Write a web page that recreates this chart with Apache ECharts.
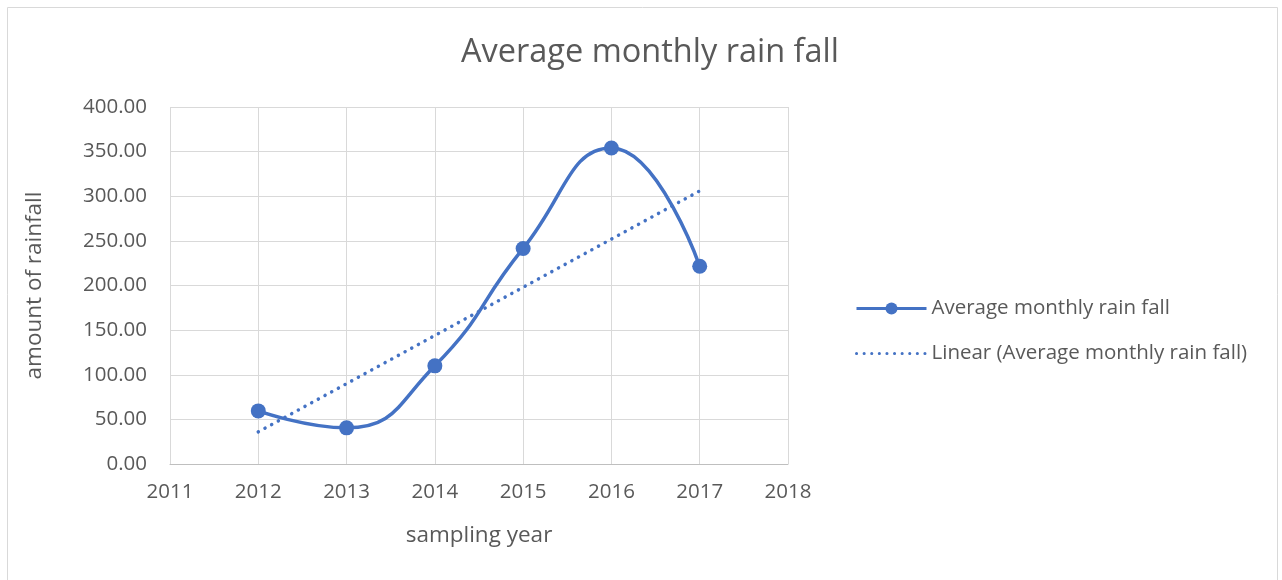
<!DOCTYPE html>
<html lang="en">
<head>
<meta charset="UTF-8">
<title>Average monthly rain fall</title>
<script src="https://cdn.jsdelivr.net/npm/echarts@6/dist/echarts.min.js"></script>
<style>
  body { margin: 0; background: #fff; }
  #main { width: 1282px; height: 580px; }
</style>
</head>
<body>
<div id="main"></div>
<script>
// values
const years = [2012, 2013, 2014, 2015, 2016, 2017];
const rainfall = [59.5, 40.5, 110, 241.5, 354, 221.5];
// linear trend end points (as drawn in the picture)
const trendYears = [2012, 2017];
const trendValues = [36, 306];

const blue = '#4472C4';
const grey = '#595959';
const font = 'Open Sans';

const chart = echarts.init(document.getElementById('main'));

chart.setOption({
  animation: false,
  textStyle: { fontFamily: font },
  graphic: [{
    type: 'rect',
    shape: { x: 7.5, y: 7.5, width: 1270, height: 600 },
    style: { fill: 'none', stroke: '#d9d9d9', lineWidth: 1 },
    silent: true
  }],
  title: {
    text: 'Average monthly rain fall',
    left: 645, top: 31, textAlign: 'center',
    textStyle: { fontFamily: font, fontSize: 32.5, fontWeight: 'normal', color: grey }
  },
  legend: {
    orient: 'vertical',
    left: 850, top: 293,
    itemWidth: 70, itemHeight: 15,
    itemGap: 24,
    textStyle: { fontFamily: font, fontSize: 20.5, color: grey },
    data: [
      { name: 'Average monthly rain fall', lineStyle: { width: 3 } },
      { name: 'Linear (Average monthly rain fall)', itemStyle: { opacity: 0 }, lineStyle: { width: 3 } }
    ]
  },
  grid: { left: 170, right: 494, top: 107, bottom: 116 },
  xAxis: {
    type: 'value',
    min: 2011, max: 2018, interval: 1,
    name: 'sampling year',
    nameLocation: 'middle', nameGap: 60,
    nameTextStyle: { fontFamily: font, fontSize: 22.5, color: grey },
    axisLine: { show: true, onZero: false, lineStyle: { color: '#bfbfbf', width: 1 } },
    axisTick: { show: false },
    axisLabel: { color: grey, fontSize: 20.5, margin: 18, formatter: v => String(v) },
    splitLine: { show: true, lineStyle: { color: '#d9d9d9', width: 1 } }
  },
  yAxis: {
    type: 'value',
    min: 0, max: 400, interval: 50,
    name: 'amount of rainfall',
    nameLocation: 'middle', nameGap: 124,
    nameTextStyle: { fontFamily: font, fontSize: 22.5, color: grey },
    axisLine: { show: false },
    axisTick: { show: false },
    axisLabel: { color: grey, fontSize: 20.5, margin: 23, formatter: v => v.toFixed(2) },
    splitLine: { show: true, lineStyle: { color: '#d9d9d9', width: 1 } }
  },
  series: [
    {
      name: 'Average monthly rain fall',
      type: 'line',
      smooth: 0.5,
      data: years.map((y, i) => [y, rainfall[i]]),
      symbol: 'circle', symbolSize: 15,
      itemStyle: { color: blue },
      lineStyle: { color: blue, width: 3.5 },
      z: 3
    },
    {
      name: 'Linear (Average monthly rain fall)',
      type: 'line',
      data: trendYears.map((y, i) => [y, trendValues[i]]),
      symbol: 'none',
      itemStyle: { color: blue },
      lineStyle: { color: blue, width: 3.5, type: [0.1, 7.5], cap: 'round' },
      z: 2
    }
  ]
});
</script>
</body>
</html>
